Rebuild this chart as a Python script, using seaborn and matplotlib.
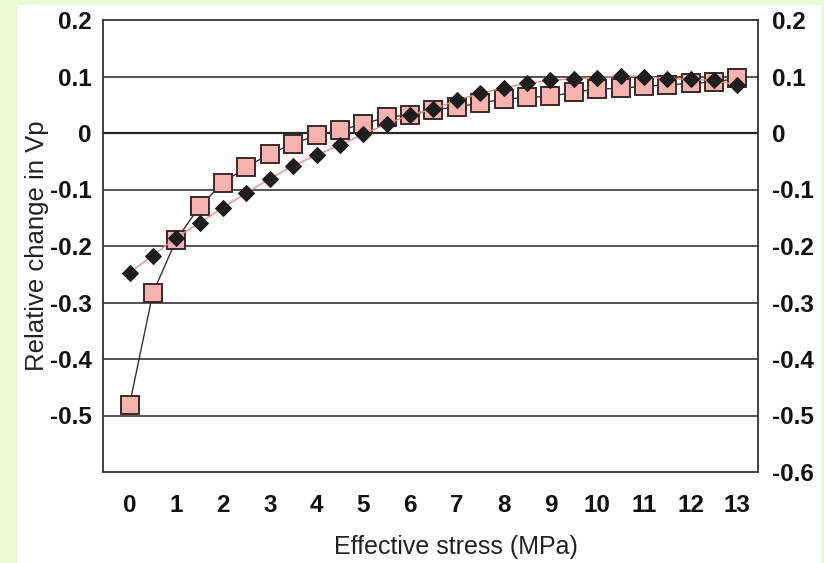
import matplotlib
matplotlib.use("Agg")
import matplotlib.pyplot as plt
import seaborn as sns
import pandas as pd
from matplotlib.patches import Rectangle

# ---- data ----
stress = [0, 0.5, 1, 1.5, 2, 2.5, 3, 3.5, 4, 4.5, 5, 5.5, 6, 6.5,
          7, 7.5, 8, 8.5, 9, 9.5, 10, 10.5, 11, 11.5, 12, 12.5, 13]
vp_squares = [-0.481, -0.283, -0.189, -0.130, -0.088, -0.060, -0.037, -0.019,
              -0.004, 0.005, 0.016, 0.028, 0.032, 0.041, 0.046, 0.053, 0.060,
              0.063, 0.065, 0.072, 0.078, 0.079, 0.083, 0.085, 0.088, 0.090, 0.097]
vp_diamonds = [-0.247, -0.217, -0.185, -0.159, -0.132, -0.106, -0.081, -0.058,
               -0.039, -0.021, -0.002, 0.016, 0.032, 0.042, 0.058, 0.070, 0.080,
               0.088, 0.093, 0.096, 0.098, 0.101, 0.100, 0.096, 0.095, 0.093, 0.085]
x_ticks = list(range(14))
y_ticks_left = [0.2, 0.1, 0, -0.1, -0.2, -0.3, -0.4, -0.5]
y_ticks_right = [0.2, 0.1, 0, -0.1, -0.2, -0.3, -0.4, -0.5, -0.6]
grid_levels = [0.1, 0, -0.1, -0.2, -0.3, -0.4, -0.5]

sns.set_style("white")
plt.rcParams["font.family"] = ["Liberation Sans", "DejaVu Sans"]

fig = plt.figure(figsize=(8.24, 5.63), dpi=100)
fig.patch.set_facecolor("#e8fbd6")
fig.add_artist(Rectangle((18 / 824, 0), (821 - 18) / 824, 1 - 5 / 563,
                         transform=fig.transFigure, facecolor="white",
                         edgecolor="none", zorder=-10))

ax = fig.add_axes([103 / 824, 1 - 472 / 563, (758 - 103) / 824, (472 - 20) / 563])
ax.set_facecolor("white")

for g in grid_levels:
    ax.axhline(g, color="#262626" if g == 0 else "#363636",
               lw=1.6 if g == 0 else 1.2, zorder=1)

df = pd.DataFrame({"stress": stress, "sq": vp_squares, "dm": vp_diamonds})

sns.lineplot(data=df, x="stress", y="sq", ax=ax, color="#333333", lw=1.0,
             marker="s", markersize=12.5, markerfacecolor="#f6b3ae",
             markeredgecolor="#3a2a2a", markeredgewidth=1.4, zorder=3)
sns.lineplot(data=df, x="stress", y="dm", ax=ax, color="#f08a7c", lw=1.0,
             marker="D", markersize=8, markerfacecolor="#1e1e1e",
             markeredgecolor="#1e1e1e", zorder=4)

ax.set_xlim(-0.567, 13.44)
ax.set_ylim(-0.6, 0.2)
ax.set_xticks(x_ticks)
ax.set_xticklabels([str(t) for t in x_ticks], fontsize=17.5, fontweight="bold")
ax.set_yticks(y_ticks_left)
ax.set_yticklabels([f"{t:g}" for t in y_ticks_left], fontsize=17.5, fontweight="bold")
ax.tick_params(axis="both", length=0, colors="#111111")
ax.tick_params(axis="x", pad=16)
ax.tick_params(axis="y", pad=8)

ax.set_xlabel("Effective stress (MPa)", fontsize=18, color="#222222")
ax.xaxis.set_label_coords((456 - 103) / (758 - 103), -(547 - 472) / (472 - 20))
ax.xaxis.label.set_va("center")
ax.set_ylabel("Relative change in Vp", fontsize=18.5, color="#222222")
ax.yaxis.set_label_coords(-(103 - 37) / (758 - 103), 0.5)
ax.yaxis.label.set_va("center")

for s in ax.spines.values():
    s.set_visible(True)
    s.set_color("#333333")
    s.set_linewidth(1.3)

ax2 = ax.twinx()
ax2.set_ylim(-0.6, 0.2)
ax2.set_yticks(y_ticks_right)
ax2.set_yticklabels([f"{t:g}" for t in y_ticks_right], fontsize=17.5, fontweight="bold")
ax2.tick_params(axis="y", length=0, pad=10, colors="#111111")
for s in ax2.spines.values():
    s.set_visible(False)

fig.savefig("out.png", dpi=100, facecolor=fig.get_facecolor())
